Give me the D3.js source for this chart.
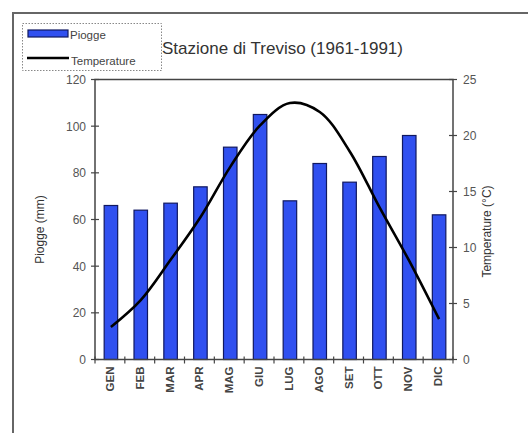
<!DOCTYPE html>
<html><head><meta charset="utf-8">
<script src="https://cdn.jsdelivr.net/npm/d3@7"></script>
<style>body{margin:0;background:#fff}svg{display:block}text{font-family:"Liberation Sans",Arial,sans-serif}</style>
</head><body>
<svg id="c" width="528" height="433"></svg>
<script>
const months = ["GEN","FEB","MAR","APR","MAG","GIU","LUG","AGO","SET","OTT","NOV","DIC"];
const piogge = [66,64,67,74,91,105,68,84,76,87,96,62];
const temperature = [2.9,5.3,8.9,12.7,17.2,20.9,22.9,22.1,18.6,13.6,8.8,3.6];
const leftTicks = [0,20,40,60,80,100,120];
const rightTicks = [0,5,10,15,20,25];

const svg = d3.select("#c");
const L = 95, R = 453, T = 79.5, B = 359.5;

// outer frame
svg.append("path").attr("d","M13,433 V13 H528").attr("fill","none").attr("stroke","#666").attr("stroke-width",2);

const x = d3.scaleBand().domain(months).range([L,R]).paddingInner(0).paddingOuter(0);
const yL = d3.scaleLinear().domain([0,120]).range([B,T]);
const yR = d3.scaleLinear().domain([0,25]).range([B,T]);
const bw = 13.5;

// bars
svg.append("g").selectAll("rect").data(months).join("rect")
  .attr("x", d => x(d) + x.bandwidth()/2 - bw/2 + 1)
  .attr("y", (d,i) => yL(piogge[i]))
  .attr("width", bw)
  .attr("height", (d,i) => B - yL(piogge[i]))
  .attr("fill", "#3050f0").attr("stroke", "#101860").attr("stroke-width", 1.2);

// line
const line = d3.line().x((d,i) => x(months[i]) + x.bandwidth()/2 + 1).y(d => yR(d)).curve(d3.curveCatmullRom.alpha(0.5));
svg.append("path").datum(temperature).attr("d", line).attr("fill","none").attr("stroke","#000").attr("stroke-width",2.6);

// plot box
svg.append("rect").attr("x",L).attr("y",T).attr("width",R-L).attr("height",B-T).attr("fill","none").attr("stroke","#444").attr("stroke-width",1.5);

// left axis
const gl = svg.append("g").attr("transform",`translate(${L},0)`)
  .call(d3.axisLeft(yL).tickValues(leftTicks).tickSize(0).tickPadding(9));
gl.select(".domain").remove();
gl.selectAll("text").attr("fill","#555").style("font-size","12px");
svg.append("g").selectAll("line").data(leftTicks).join("line")
  .attr("x1",L-4).attr("x2",L+4).attr("y1",d=>yL(d)).attr("y2",d=>yL(d)).attr("stroke","#444").attr("stroke-width",1.2);

// right axis
const gr = svg.append("g").attr("transform",`translate(${R},0)`)
  .call(d3.axisRight(yR).tickValues(rightTicks).tickSize(0).tickPadding(10));
gr.select(".domain").remove();
gr.selectAll("text").attr("fill","#555").style("font-size","12px");
svg.append("g").selectAll("line").data(rightTicks).join("line")
  .attr("x1",R-4).attr("x2",R+4).attr("y1",d=>yR(d)).attr("y2",d=>yR(d)).attr("stroke","#444").attr("stroke-width",1.2);

// bottom ticks at category boundaries
const bounds = months.map(m => x(m)).concat([R]);
svg.append("g").selectAll("line").data(bounds).join("line")
  .attr("x1",d=>d).attr("x2",d=>d).attr("y1",B-3).attr("y2",B+4).attr("stroke","#444").attr("stroke-width",1.2);

// month labels
svg.append("g").selectAll("text").data(months).join("text")
  .attr("transform", d => `translate(${x(d)+x.bandwidth()/2+4},${B+7}) rotate(-90)`)
  .attr("text-anchor","end").attr("fill","#444").style("font-size","11.5px").style("font-weight","bold")
  .text(d => d);

// axis titles
svg.append("text").attr("transform",`translate(44,${(T+B)/2+10}) rotate(-90)`).attr("text-anchor","middle")
  .attr("fill","#333").style("font-size","12px").text("Piogge (mm)");
svg.append("text").attr("transform",`translate(491,${(T+B)/2+12}) rotate(-90)`).attr("text-anchor","middle")
  .attr("fill","#333").style("font-size","12px").text("Temperature (°C)");

// title
svg.append("text").attr("x",162).attr("y",54).attr("fill","#333").style("font-size","17px").text("Stazione di Treviso (1961-1991)");

// legend
svg.append("rect").attr("x",22.5).attr("y",23.5).attr("width",139).attr("height",47).attr("fill","#fff")
  .attr("stroke","#888").attr("stroke-dasharray","1.5,1.5");
svg.append("rect").attr("x",28).attr("y",30).attr("width",40).attr("height",7).attr("fill","#3050f0").attr("stroke","#101860").attr("stroke-width",1.2);
svg.append("line").attr("x1",27).attr("x2",69).attr("y1",58).attr("y2",58).attr("stroke","#000").attr("stroke-width",2.6);
svg.append("text").attr("x",70).attr("y",39).attr("fill","#444").style("font-size","11.5px").text("Piogge");
svg.append("text").attr("x",71).attr("y",65).attr("fill","#444").style("font-size","11.5px").text("Temperature");
</script>
</body></html>
